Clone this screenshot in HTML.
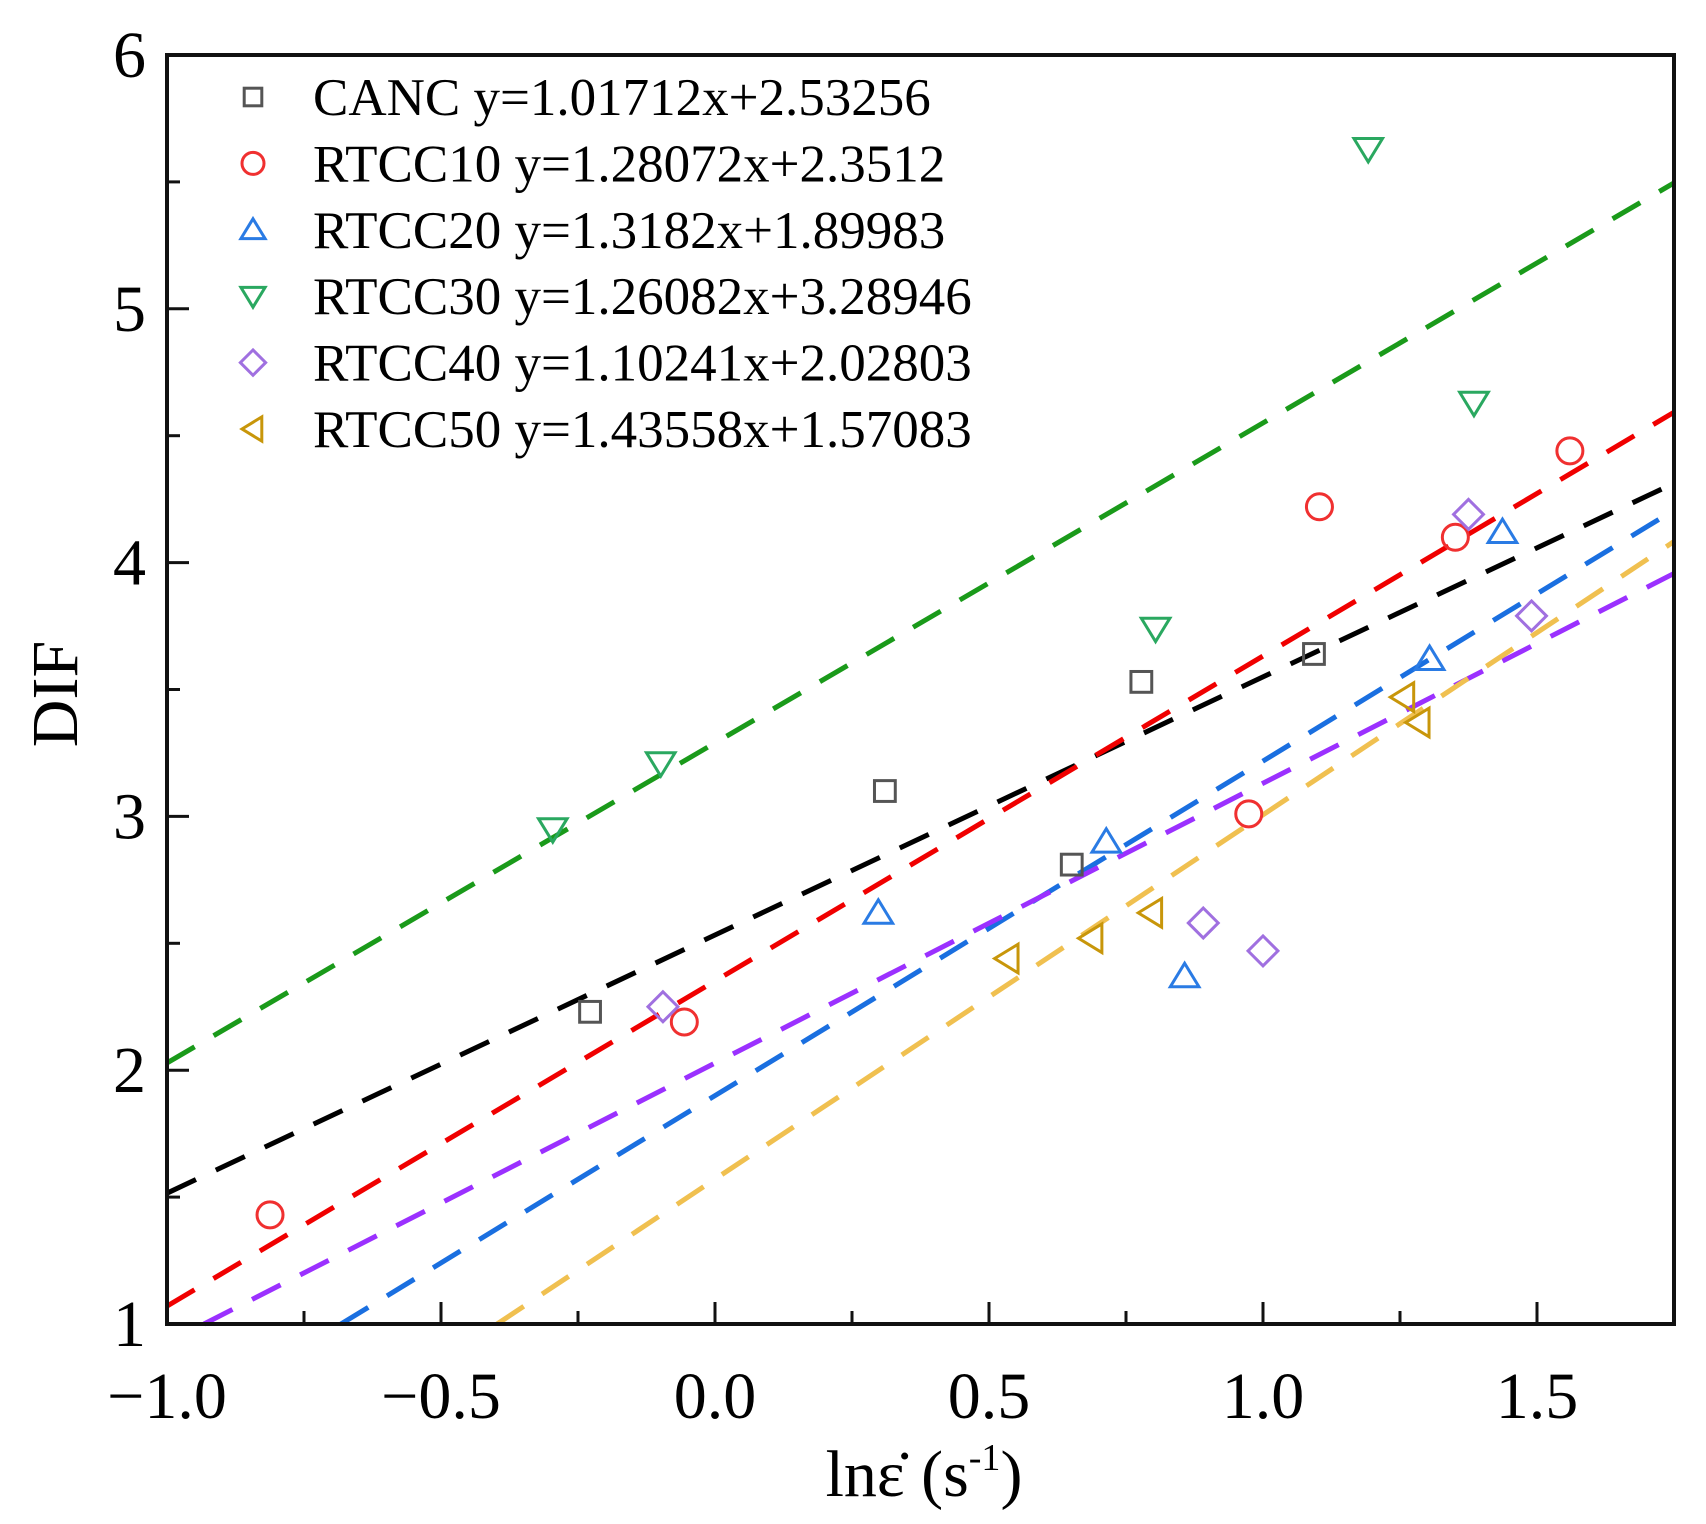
<!DOCTYPE html>
<html><head><meta charset="utf-8"><style>
html,body{margin:0;padding:0;background:#fff;}
svg{display:block;font-family:"Liberation Serif",serif;}
</style></head><body>
<svg id="chart" width="1706" height="1524" viewBox="0 0 1706 1524" xmlns="http://www.w3.org/2000/svg">
<g id="lines"></g>
<g id="marks"></g>
<rect x="167" y="55" width="1507" height="1269" fill="none" stroke="#111" stroke-width="4"/>
<g id="ticks"></g>
<text x="62" y="694" font-size="66" text-anchor="middle" transform="rotate(-90 62 694)" dominant-baseline="middle">DIF</text>
<text x="924" y="1496" font-size="66" text-anchor="middle">lnε̇ (s<tspan dy="-26" font-size="38">-1</tspan><tspan dy="26">)</tspan></text>
<g id="legend"></g>
</svg>
<script>
const names=["CANC","RTCC10","RTCC20","RTCC30","RTCC40","RTCC50"];
const eqs=["y=1.01712x+2.53256","y=1.28072x+2.3512","y=1.3182x+1.89983","y=1.26082x+3.28946","y=1.10241x+2.02803","y=1.43558x+1.57083"];
const slopes=[1.01712,1.28072,1.3182,1.26082,1.10241,1.43558];
const intercepts=[2.53256,2.3512,1.89983,3.28946,2.02803,1.57083];
const xCANC=[-0.228,0.310,0.651,0.778,1.093], yCANC=[2.23,3.10,2.81,3.53,3.64];
const x10=[-0.812,-0.056,0.974,1.103,1.351,1.560], y10=[1.43,2.19,3.01,4.22,4.10,4.44];
const x20=[0.298,0.714,0.857,1.304,1.437], y20=[2.62,2.90,2.37,3.62,4.12];
const x30=[-0.296,-0.099,0.804,1.192,1.385], y30=[2.95,3.21,3.74,5.63,4.63];
const x40=[-0.095,0.891,1.0,1.375,1.490], y40=[2.25,2.58,2.47,4.19,3.79];
const x50=[0.534,0.687,0.796,1.256,1.284], y50=[2.44,2.52,2.62,3.47,3.37];
const xTicks=[-1.0,-0.5,0.0,0.5,1.0,1.5], xTickLabels=["\u22121.0","\u22120.5","0.0","0.5","1.0","1.5"];
const yTicks=[1,2,3,4,5,6], yTickLabels=["1","2","3","4","5","6"];

const NS="http://www.w3.org/2000/svg";
const L=167,R=1674,T=55,B=1324,X0=-1,X1=1.75,Y0=1,Y1=6;
const sx=v=>L+(v-X0)/(X1-X0)*(R-L);
const sy=v=>B-(v-Y0)/(Y1-Y0)*(B-T);
function mk(tag,attrs,parent){const e=document.createElementNS(NS,tag);for(const k in attrs)e.setAttribute(k,attrs[k]);parent.appendChild(e);return e;}
const lineColors=["#000","#f00000","#1a6fe0","#1a9a1a","#9b30ff","#f0c050"];
const mCols=["#555","#f03030","#2a7be4","#2aa860","#a070e0","#c8960a"];
const lines=document.getElementById('lines');
for(let i=0;i<6;i++){
  const m=slopes[i],b=intercepts[i];
  let xa=Math.max(X0,(Y0-b)/m), xb=Math.min(X1,(Y1-b)/m);
  const ln=mk('line',{x1:sx(xa),y1:sy(m*xa+b),x2:sx(xb),y2:sy(m*xb+b),stroke:lineColors[i],'stroke-width':5,'stroke-dasharray':'32 22'},lines);
  
  
}
function marker(k,cx,cy,parent,s){
  s=s||13;let e;
  const st={fill:'none',stroke:mCols[k],'stroke-width':3};
  if(k===0)e=mk('rect',Object.assign({x:cx-s*0.8,y:cy-s*0.8,width:s*1.6,height:s*1.6},st),parent);
  else if(k===1)e=mk('circle',Object.assign({cx:cx,cy:cy,r:s},st),parent);
  else{let p;
    if(k===2)p=[[0,-s],[s*1.1,s*0.8],[-s*1.1,s*0.8]];
    else if(k===3)p=[[0,s],[s*1.1,-s*0.8],[-s*1.1,-s*0.8]];
    else if(k===4)p=[[0,-s*1.15],[s*1.15,0],[0,s*1.15],[-s*1.15,0]];
    else p=[[-s,0],[s*0.8,-s*1.1],[s*0.8,s*1.1]];
    e=mk('polygon',Object.assign({points:p.map(q=>(cx+q[0])+','+(cy+q[1])).join(' ')},st),parent);}
  return e;
}
const marks=document.getElementById('marks');
const XS=[xCANC,x10,x20,x30,x40,x50],YS=[yCANC,y10,y20,y30,y40,y50];
for(let k=0;k<6;k++)for(let j=0;j<XS[k].length;j++){
  const e=marker(k,sx(XS[k][j]),sy(YS[k][j]),marks);
  
  
}
const tk=document.getElementById('ticks');
for(let v=-1;v<=1.75001;v+=0.25){
  const major=Math.abs(v*2-Math.round(v*2))<1e-6;
  const t=mk('line',{x1:sx(v),x2:sx(v),y1:B,y2:B-(major?22:13),stroke:'#111','stroke-width':3},tk);
  
  
}
for(let v=1;v<=6.0001;v+=0.5){
  const major=Math.abs(v-Math.round(v))<1e-6;
  const t=mk('line',{x1:L,x2:L+(major?22:13),y1:sy(v),y2:sy(v),stroke:'#111','stroke-width':3},tk);
  
  
}
xTicks.forEach((v,i)=>{const t=mk('text',{x:sx(v),y:1418,'font-size':66,'text-anchor':'middle'},tk);t.textContent=xTickLabels[i];
  
  });
yTicks.forEach((v,i)=>{const t=mk('text',{x:146,y:sy(v)+22,'font-size':66,'text-anchor':'end'},tk);t.textContent=yTickLabels[i];
  
  });
const lg=document.getElementById('legend');
for(let k=0;k<6;k++){
  const y=97+k*66.4;
  const g=mk('g',{},lg);
  
  
  marker(k,253,y,g,11);
  const t=mk('text',{x:313,y:y+18,'font-size':53},g);t.textContent=names[k]+' '+eqs[k];
}
</script>
</body></html>
